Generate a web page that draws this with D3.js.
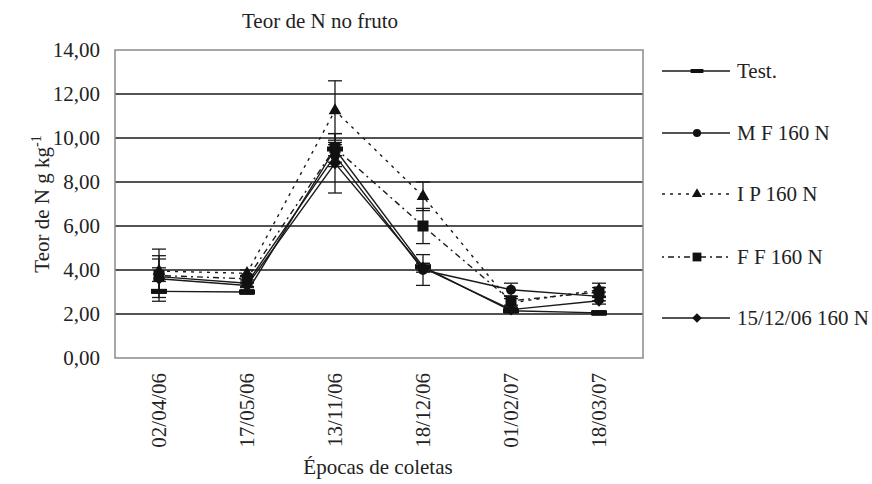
<!DOCTYPE html>
<html>
<head>
<meta charset="utf-8">
<script src="https://cdn.jsdelivr.net/npm/d3@7"></script>
<style>
  body { margin: 0; background: #fff; }
</style>
</head>
<body>
<div id="chart"></div>
<script>
// datas de coleta
const datas = ["02/04/06", "17/05/06", "13/11/06", "18/12/06", "01/02/07", "18/03/07"];
const yTicks = [0, 2, 4, 6, 8, 10, 12, 14];

// tratamentos
const nomes = ["Test.", "M F 160 N", "I P 160 N", "F F 160 N", "15/12/06 160 N"];
const teste    = [3.03, 3.00, 9.50, 4.15, 2.15, 2.05];
const mf160    = [3.70, 3.40, 9.20, 4.00, 3.10, 2.80];
const ip160    = [3.95, 3.85, 11.25, 7.35, 2.50, 3.10];
const ff160    = [3.75, 3.60, 9.55, 6.00, 2.60, 3.00];
const dez160   = [3.60, 3.30, 8.85, 4.10, 2.20, 2.60];

// erro padrão
const errTeste = [0.45, 0.10, 0.30, 0.15, 0.10, 0.10];
const errMf    = [0.95, 0.15, 0.50, 0.70, 0.30, 0.20];
const errIp    = [1.00, 0.15, 1.35, 0.65, 0.20, 0.30];
const errFf    = [0.75, 0.15, 0.65, 0.80, 0.20, 0.20];
const errDez   = [0.50, 0.10, 1.35, 0.20, 0.10, 0.15];

const series = [
  { nome: nomes[0], valores: teste, erros: errTeste, marca: "barra", traco: null },
  { nome: nomes[1], valores: mf160, erros: errMf, marca: "circulo", traco: null },
  { nome: nomes[2], valores: ip160, erros: errIp, marca: "triangulo", traco: "3,5" },
  { nome: nomes[3], valores: ff160, erros: errFf, marca: "quadrado", traco: "2,4,6,4" },
  { nome: nomes[4], valores: dez160, erros: errDez, marca: "losango", traco: null }
];

const fonte = "Liberation Serif, Tinos, FreeSerif, serif";
const W = 872, H = 484;
const margin = { top: 50, right: 229, bottom: 126, left: 115 };
const width = W - margin.left - margin.right;
const height = H - margin.top - margin.bottom;

const svg = d3.select("#chart").append("svg")
    .attr("width", W).attr("height", H)
    .attr("font-family", fonte);

const g = svg.append("g")
    .attr("transform", `translate(${margin.left},${margin.top})`);

const x = d3.scaleBand().domain(datas).range([0, width]);
const y = d3.scaleLinear().domain([0, 14]).range([height, 0]);

// grade
g.selectAll(".grade")
  .data(yTicks.slice(1, -1))
  .enter().append("line")
    .attr("x1", 0).attr("x2", width)
    .attr("y1", d => y(d)).attr("y2", d => y(d))
    .attr("stroke", "#1a1a1a").attr("stroke-width", 1.3);

// moldura
g.append("rect")
  .attr("width", width).attr("height", height)
  .attr("fill", "none").attr("stroke", "#8a8a8a").attr("stroke-width", 1.5);

// eixo Y
const eixoY = g.append("g")
  .call(d3.axisLeft(y).tickValues(yTicks).tickSize(0).tickPadding(15)
    .tickFormat(d => d3.format(".2f")(d).replace(".", ",")));
eixoY.select(".domain").remove();
eixoY.selectAll("text").attr("font-size", 21);

// eixo X
const eixoX = g.append("g")
  .attr("transform", `translate(0,${height})`)
  .call(d3.axisBottom(x).tickSize(0));
eixoX.select(".domain").remove();
eixoX.selectAll("text")
  .attr("font-size", 21)
  .attr("text-anchor", "end")
  .attr("transform", "rotate(-90)")
  .attr("x", -15).attr("y", 0).attr("dy", "0.35em");

// títulos
svg.append("text")
  .attr("x", 320).attr("y", 28)
  .attr("text-anchor", "middle")
  .attr("font-size", 21)
  .text("Teor de N no fruto");

svg.append("text")
  .attr("x", 378).attr("y", 474)
  .attr("text-anchor", "middle")
  .attr("font-size", 21)
  .text("Épocas de coletas");

const rotY = svg.append("text")
  .attr("transform", `translate(49,${margin.top + height / 2}) rotate(-90)`)
  .attr("text-anchor", "middle")
  .attr("font-size", 21);
rotY.append("tspan").text("Teor de N g kg");
rotY.append("tspan").attr("dy", "-0.55em").attr("font-size", 14).text("-1");

const cx = d => x(d) + x.bandwidth() / 2;

// linhas
const linha = d3.line()
  .x((v, i) => cx(datas[i]))
  .y(v => y(v));

function desenhaMarca(sel, tipo, k) {
  if (tipo === "barra") {
    sel.append("rect").attr("x", -8 * k).attr("y", -2.5 * k).attr("width", 16 * k).attr("height", 5 * k);
  } else if (tipo === "circulo") {
    sel.append("circle").attr("r", 5 * k);
  } else if (tipo === "triangulo") {
    sel.append("path").attr("d", d3.symbol(d3.symbolTriangle, 70 * k * k)());
  } else if (tipo === "quadrado") {
    sel.append("rect").attr("x", -5.5 * k).attr("y", -5.5 * k).attr("width", 11 * k).attr("height", 11 * k);
  } else if (tipo === "losango") {
    sel.append("path").attr("d", `M0,${-6 * k}L${6 * k},0L0,${6 * k}L${-6 * k},0Z`);
  }
}

series.forEach(s => {
  g.append("path")
    .datum(s.valores)
    .attr("d", linha)
    .attr("fill", "none")
    .attr("stroke", "#1a1a1a")
    .attr("stroke-width", 1.4)
    .attr("stroke-dasharray", s.traco);
});

// barras de erro
series.forEach(s => {
  const eb = g.append("g").attr("stroke", "#1a1a1a").attr("stroke-width", 1.3);
  s.valores.forEach((v, i) => {
    const px = cx(datas[i]);
    const e = s.erros[i];
    eb.append("line").attr("x1", px).attr("x2", px).attr("y1", y(v - e)).attr("y2", y(v + e));
    [v - e, v + e].forEach(t => {
      eb.append("line").attr("x1", px - 7).attr("x2", px + 7).attr("y1", y(t)).attr("y2", y(t));
    });
  });
});

// marcadores
series.forEach(s => {
  s.valores.forEach((v, i) => {
    const m = g.append("g")
      .attr("transform", `translate(${cx(datas[i])},${y(v)})`)
      .attr("fill", "#111");
    desenhaMarca(m, s.marca, 1);
  });
});

// legenda
const legY = [71, 133, 194, 257, 318];
const leg = svg.append("g");
series.forEach((s, i) => {
  const item = leg.append("g").attr("transform", `translate(662,${legY[i]})`);
  item.append("line")
    .attr("x1", 0).attr("x2", 68)
    .attr("stroke", "#1a1a1a").attr("stroke-width", 1.3)
    .attr("stroke-dasharray", s.traco);
  const m = item.append("g").attr("transform", "translate(35,0)").attr("fill", "#111");
  desenhaMarca(m, s.marca, 0.8);
  item.append("text")
    .attr("x", 75).attr("dy", "0.35em")
    .attr("font-size", 21)
    .text(s.nome);
});

// fonte serifada em todos os textos
svg.selectAll("text")
  .attr("font-family", fonte)
  .attr("fill", "#222");
</script>
</body>
</html>
